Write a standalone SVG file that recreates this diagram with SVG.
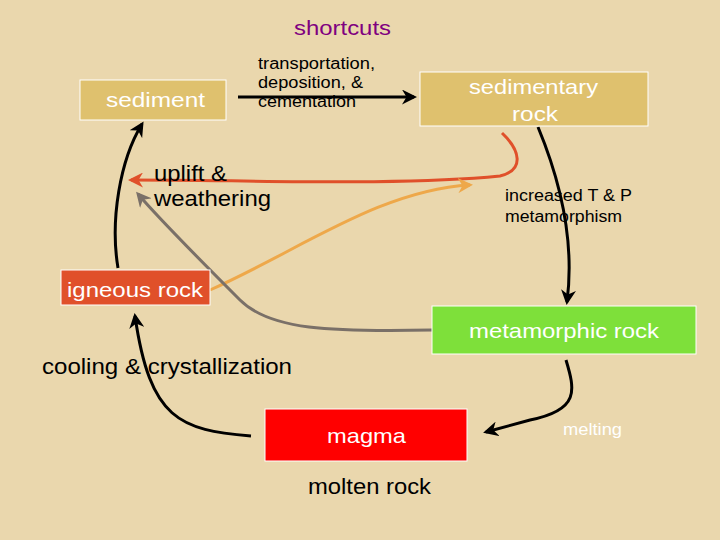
<svg xmlns="http://www.w3.org/2000/svg" width="720" height="540" viewBox="0 0 720 540">
<defs>
<style>
text{font-family:"Liberation Sans",Arial,sans-serif}
.w{fill:#fff;font-size:21px}
.k{fill:#000}
.c{fill:none;stroke-width:3}
</style>
<marker id="ab" viewBox="0 0 10 10" refX="8" refY="5" markerWidth="5" markerHeight="5" orient="auto"><path d="M0,0L10,5L0,10L3,5z" fill="#000"/></marker>
<marker id="ar" viewBox="0 0 10 10" refX="8" refY="5" markerWidth="5" markerHeight="5" orient="auto"><path d="M0,0L10,5L0,10L3,5z" fill="#e0502a"/></marker>
<marker id="ao" viewBox="0 0 10 10" refX="8" refY="5" markerWidth="5" markerHeight="5" orient="auto"><path d="M0,0L10,5L0,10L3,5z" fill="#eea84a"/></marker>
<marker id="ag" viewBox="0 0 10 10" refX="8" refY="5" markerWidth="5" markerHeight="5" orient="auto"><path d="M0,0L10,5L0,10L3,5z" fill="#7a7068"/></marker>
</defs>
<rect width="720" height="540" fill="#ead7ad"/>
<text x="294" y="35" textLength="97" lengthAdjust="spacingAndGlyphs" style="fill:#800080;font-size:21px">shortcuts</text>
<g id="connectors">
<path class="c" stroke="#000" d="M238,97L414,97" marker-end="url(#ab)"/>
<path class="c" stroke="#000" d="M538,127C560,180 575,240 567,302" marker-end="url(#ab)"/>
<path class="c" stroke="#e0502a" d="M502,133C520,150 525,170 500,176C400,186 250,180 131,180" marker-end="url(#ar)"/>
<path class="c" stroke="#eea84a" d="M210,290C300,250 380,190 470,185" marker-end="url(#ao)"/>
<path class="c" stroke="#7a7068" d="M432,330C330,332 270,330 240,300C200,260 160,220 138,194" marker-end="url(#ag)"/>
<path class="c" stroke="#000" d="M118,268C110,220 120,160 142,124" marker-end="url(#ab)"/>
<path class="c" stroke="#000" d="M251,436C180,430 150,420 135,316" marker-end="url(#ab)"/>
<path class="c" stroke="#000" d="M566,360C575,390 580,410 530,420L486,432" marker-end="url(#ab)"/>
</g>
<g id="sediment"><rect x="80" y="80" width="146" height="40" fill="#dfc16e" stroke="#fff"/><text class="w" x="106" y="107" textLength="99" lengthAdjust="spacingAndGlyphs">sediment</text></g>
<g id="sedimentary"><rect x="420" y="72" width="228" height="54" fill="#dfc16e" stroke="#fff"/><text class="w" x="469" y="94" textLength="129" lengthAdjust="spacingAndGlyphs">sedimentary</text><text class="w" x="512" y="121" textLength="46" lengthAdjust="spacingAndGlyphs">rock</text></g>
<g id="igneous"><rect x="61" y="270" width="149" height="35" fill="#e0502a" stroke="#fff"/><text class="w" x="67" y="297" textLength="136" lengthAdjust="spacingAndGlyphs">igneous rock</text></g>
<g id="metamorphic"><rect x="432" y="306" width="264" height="48" fill="#7ee03a" stroke="#fff"/><text class="w" x="469" y="338" textLength="190" lengthAdjust="spacingAndGlyphs">metamorphic rock</text></g>
<g id="magma"><rect x="265" y="409" width="202" height="52" fill="#f00" stroke="#fff"/><text class="w" x="327" y="443" textLength="79" lengthAdjust="spacingAndGlyphs">magma</text></g>
<g font-size="16" class="k" lengthAdjust="spacingAndGlyphs">
<text x="258" y="69" textLength="117" lengthAdjust="spacingAndGlyphs">transportation,</text><text x="258" y="88" textLength="105" lengthAdjust="spacingAndGlyphs">deposition, &amp;</text><text x="258" y="107" textLength="98" lengthAdjust="spacingAndGlyphs">cementation</text>
<text x="505" y="201" textLength="127" lengthAdjust="spacingAndGlyphs">increased T &amp; P</text><text x="505" y="222" textLength="117" lengthAdjust="spacingAndGlyphs">metamorphism</text>
<text x="563" y="435" fill="#fff" textLength="59" lengthAdjust="spacingAndGlyphs">melting</text>
</g>
<g font-size="22" class="k">
<text x="154" y="181" textLength="73" lengthAdjust="spacingAndGlyphs">uplift &amp;</text><text x="154" y="206" textLength="117" lengthAdjust="spacingAndGlyphs">weathering</text>
<text x="42" y="374" textLength="250" lengthAdjust="spacingAndGlyphs">cooling &amp; crystallization</text>
<text x="308" y="494" textLength="123" lengthAdjust="spacingAndGlyphs">molten rock</text>
</g>
</svg>
